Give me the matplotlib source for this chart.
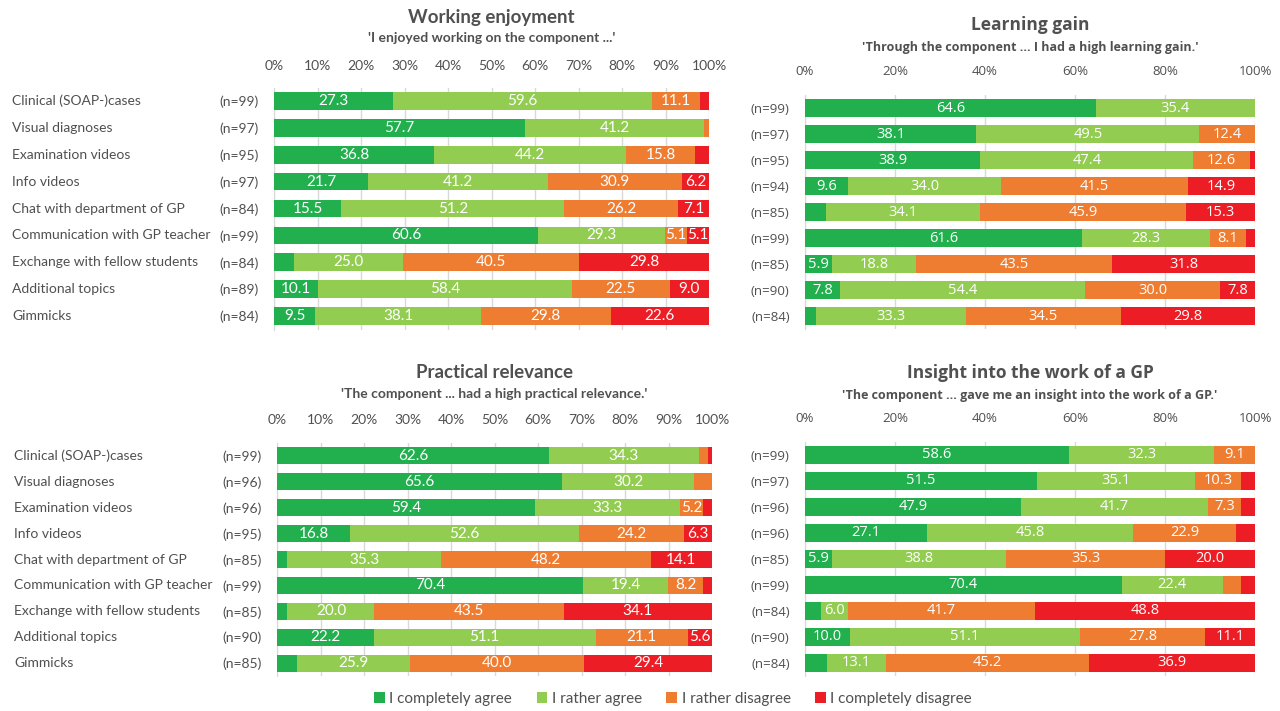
import matplotlib
matplotlib.use("Agg")
import matplotlib.pyplot as plt
from matplotlib.transforms import blended_transform_factory
from matplotlib.patches import Patch

# ---------------- data ----------------
categories = ["Clinical (SOAP-)cases", "Visual diagnoses", "Examination videos", "Info videos",
              "Chat with department of GP", "Communication with GP teacher",
              "Exchange with fellow students", "Additional topics", "Gimmicks"]
legend_labels = ["I completely agree", "I rather agree", "I rather disagree", "I completely disagree"]

# Working enjoyment
we_n = [99, 97, 95, 97, 84, 99, 84, 89, 84]
we_ca = [27.3, 57.7, 36.8, 21.7, 15.5, 60.6, 4.7, 10.1, 9.5]
we_ra = [59.6, 41.2, 44.2, 41.2, 51.2, 29.3, 25.0, 58.4, 38.1]
we_rd = [11.1, 1.1, 15.8, 30.9, 26.2, 5.1, 40.5, 22.5, 29.8]
we_cd = [2.0, 0.0, 3.2, 6.2, 7.1, 5.1, 29.8, 9.0, 22.6]

# Learning gain
lg_n = [99, 97, 95, 94, 85, 99, 85, 90, 84]
lg_ca = [64.6, 38.1, 38.9, 9.6, 4.7, 61.6, 5.9, 7.8, 2.4]
lg_ra = [35.4, 49.5, 47.4, 34.0, 34.1, 28.3, 18.8, 54.4, 33.3]
lg_rd = [0.0, 12.4, 12.6, 41.5, 45.9, 8.1, 43.5, 30.0, 34.5]
lg_cd = [0.0, 0.0, 1.1, 14.9, 15.3, 2.0, 31.8, 7.8, 29.8]

# Practical relevance
pr_n = [99, 96, 96, 95, 85, 99, 85, 90, 85]
pr_ca = [62.6, 65.6, 59.4, 16.8, 2.4, 70.4, 2.4, 22.2, 4.7]
pr_ra = [34.3, 30.2, 33.3, 52.6, 35.3, 19.4, 20.0, 51.1, 25.9]
pr_rd = [2.1, 4.2, 5.2, 24.2, 48.2, 8.2, 43.5, 21.1, 40.0]
pr_cd = [1.0, 0.0, 2.1, 6.3, 14.1, 2.0, 34.1, 5.6, 29.4]

# Insight into the work of a GP
ig_n = [99, 97, 96, 96, 85, 99, 84, 90, 84]
ig_ca = [58.6, 51.5, 47.9, 27.1, 5.9, 70.4, 3.5, 10.0, 4.8]
ig_ra = [32.3, 35.1, 41.7, 45.8, 38.8, 22.4, 6.0, 51.1, 13.1]
ig_rd = [9.1, 10.3, 7.3, 22.9, 35.3, 4.1, 41.7, 27.8, 45.2]
ig_cd = [0.0, 3.1, 3.1, 4.2, 20.0, 3.1, 48.8, 11.1, 36.9]

colors = ["#22B04F", "#92CD52", "#EE7D31", "#EC1D25"]
text_col = "#505050"

W, H = 1280, 711
fig = plt.figure(figsize=(W / 100, H / 100), dpi=100)
fig.patch.set_facecolor("white")


def px_axes(x0, x1, y0, y1):
    return fig.add_axes([x0 / W, 1 - y1 / H, (x1 - x0) / W, (y1 - y0) / H])


def panel(ax, title, subtitle, ns, series, ticks, font, show_cats, cat_x, title_y, sub_y, title_fs, sub_fs,
          tick_fs, lab_fs, n_fs, val_fs, tick_pad):
    ypos = list(range(len(categories)))
    left = [0.0] * len(categories)
    for vals, c in zip(series, colors):
        cont = ax.barh(ypos, vals, left=left, height=0.66, color=c, zorder=3, linewidth=0)
        labs = [f"{v:.1f}" if v >= 5 else "" for v in vals]
        ax.bar_label(cont, labels=labs, label_type="center", color="white", fontsize=val_fs,
                     family=font, zorder=4)
        left = [a + b for a, b in zip(left, vals)]
    ax.set_xlim(0, 100)
    ax.set_ylim(len(categories) - 0.5, -0.5)
    ax.set_xticks(ticks)
    ax.set_xticklabels([f"{t}%" for t in ticks], fontsize=tick_fs, color=text_col, family=font)
    ax.xaxis.tick_top()
    ax.tick_params(axis="x", length=0, pad=tick_pad)
    ax.set_yticks(ypos)
    ax.set_yticklabels([f"(n={n})" for n in ns], fontsize=n_fs, color=text_col, family=font)
    ax.tick_params(axis="y", length=0, pad=11)
    ax.grid(axis="x", color="#D9D9D9", linewidth=1, zorder=0)
    for s in ["top", "right", "bottom"]:
        ax.spines[s].set_visible(False)
    ax.spines["left"].set_color("#D9D9D9")
    if show_cats:
        tr = blended_transform_factory(fig.transFigure, ax.transData)
        for y, cat in zip(ypos, categories):
            ax.text(cat_x / W, y, cat, transform=tr, ha="left", va="center", fontsize=lab_fs,
                    color=text_col, family=font)
    bb = ax.get_position()
    cx = bb.x0 + bb.width / 2
    fig.text(cx, 1 - title_y / H, title, ha="center", va="center", fontsize=title_fs, weight="bold",
             color=text_col, family=font)
    fig.text(cx, 1 - sub_y / H, subtitle, ha="center", va="center", fontsize=sub_fs, weight="bold",
             color=text_col, family=font)


left_font = "Lato"
right_font = "Open Sans"

ax1 = px_axes(274, 709, 87.5, 329.5)
panel(ax1, "Working enjoyment", "'I enjoyed working on the component ...'", we_n,
      [we_ca, we_ra, we_rd, we_cd], list(range(0, 101, 10)), left_font, True, 12, 18, 38,
      13.5, 10, 10, 10, 10, 11, 11)

ax2 = px_axes(805, 1255, 95, 329)
panel(ax2, "Learning gain", "'Through the component ... I had a high learning gain.'", lg_n,
      [lg_ca, lg_ra, lg_rd, lg_cd], list(range(0, 101, 20)), right_font, False, 0, 25, 47,
      12.5, 9, 9.5, 9.5, 9.5, 10.5, 12)

ax3 = px_axes(277, 712, 443, 676)
panel(ax3, "Practical relevance", "'The component ... had a high practical relevance.'", pr_n,
      [pr_ca, pr_ra, pr_rd, pr_cd], list(range(0, 101, 10)), left_font, True, 14, 373, 394,
      13.5, 10, 10, 10, 10, 11, 12)

ax4 = px_axes(805, 1255, 442, 676)
panel(ax4, "Insight into the work of a GP", "'The component ... gave me an insight into the work of a GP.'",
      ig_n, [ig_ca, ig_ra, ig_rd, ig_cd], list(range(0, 101, 20)), right_font, False, 0, 373, 396,
      12.5, 9, 9.5, 9.5, 9.5, 10.5, 12)

handles = [Patch(facecolor=c, edgecolor="none") for c in colors]
leg = fig.legend(handles, legend_labels, loc="center", bbox_to_anchor=(673 / W, 1 - 699 / H), ncol=4,
                 frameon=False, handlelength=0.7, handleheight=0.7, handletextpad=0.3, columnspacing=1.6,
                 prop={"family": left_font, "size": 11})
for t in leg.get_texts():
    t.set_color(text_col)

fig.savefig("out.png", dpi=100, facecolor="white")
